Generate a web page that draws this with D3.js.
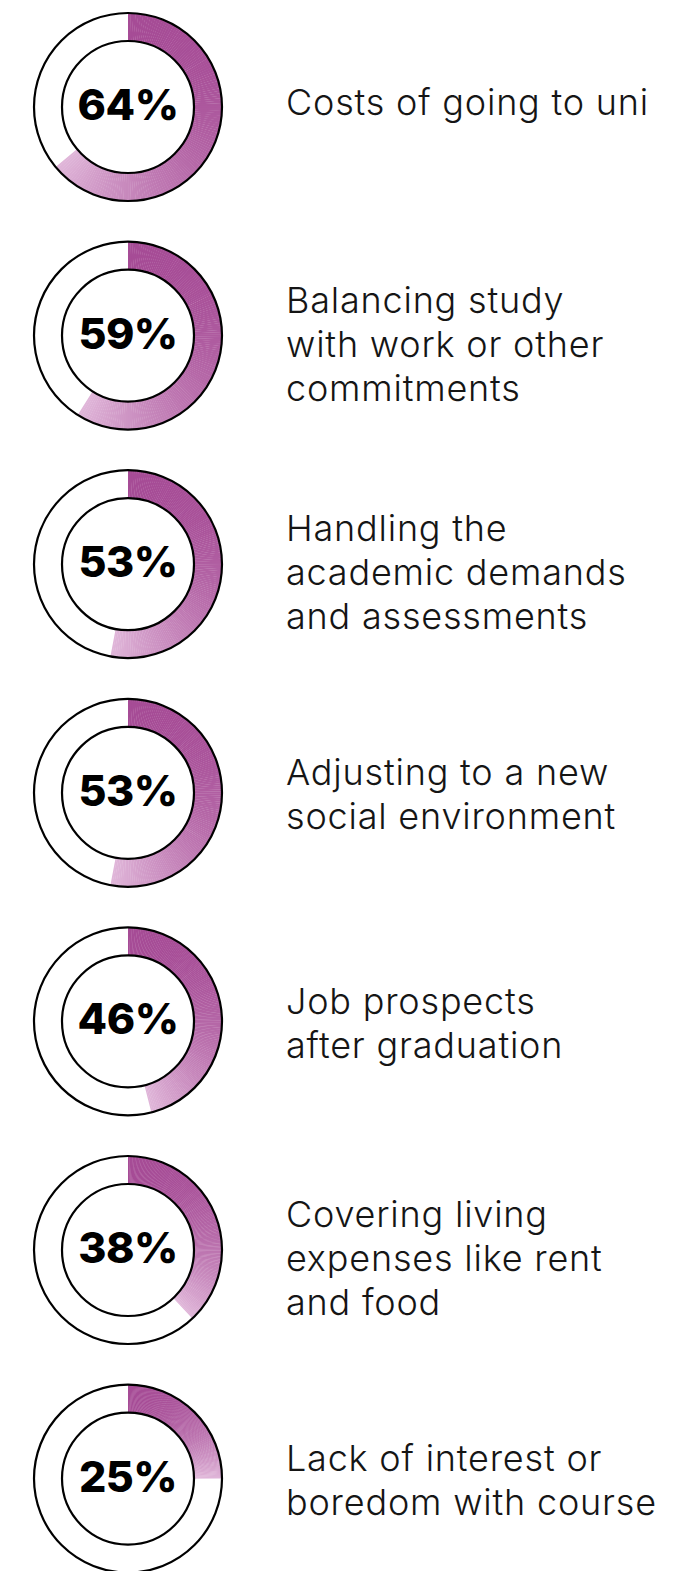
<!DOCTYPE html>
<html>
<head>
<meta charset="utf-8">
<script src="https://cdn.jsdelivr.net/npm/d3@7"></script>
<style>
  html, body { margin: 0; padding: 0; background: #fff; }
  svg { display: block; }
</style>
</head>
<body>
<div id="chart"></div>
<script>
// the data
const labels = [
  ["Costs of going to uni"],
  ["Balancing study", "with work or other", "commitments"],
  ["Handling the", "academic demands", "and assessments"],
  ["Adjusting to a new", "social environment"],
  ["Job prospects", "after graduation"],
  ["Covering living", "expenses like rent", "and food"],
  ["Lack of interest or", "boredom with course"]
];
const values = [64, 59, 53, 53, 46, 38, 25];

const width = 693, height = 1571;
const cx = 128, rOuter = 94, rInner = 66;
const rowTop = 107, rowStep = 228.6;
const darkCol = "#a64c96", lightCol = "#e0b6d9";

const svg = d3.select("#chart").append("svg")
  .attr("width", width).attr("height", height);

const y = d3.scaleLinear().domain([0, 1]).range([rowTop, rowTop + rowStep]);
const angle = d3.scaleLinear().domain([0, 100]).range([0, 2 * Math.PI]);
const arc = d3.arc().innerRadius(rInner).outerRadius(rOuter);

const rows = svg.selectAll("g.row")
  .data(values.map((v, i) => ({ v, lines: labels[i], i })))
  .join("g")
  .attr("class", "row")
  .attr("transform", d => `translate(${cx},${y(d.i)})`);

// arc drawn as many thin slices so the colour fades along it
// (stays dark for a while, then lightens toward the end)
const steps = 150;
const col = d3.interpolateRgb(darkCol, lightCol);
rows.each(function(d) {
  const g = d3.select(this);
  const end = angle(d.v);
  const segs = d3.range(steps).map(k => ({
    a0: end * k / steps,
    a1: Math.min(end, end * (k + 1) / steps + 0.004),
    t: Math.pow(k / (steps - 1), 2.3)
  }));
  g.selectAll("path.seg").data(segs).join("path")
    .attr("class", "seg")
    .attr("d", s => arc({ startAngle: s.a0, endAngle: s.a1 }))
    .attr("fill", s => col(s.t));
});

rows.append("circle").attr("r", rOuter)
  .attr("fill", "none").attr("stroke", "#000").attr("stroke-width", 2.2);
rows.append("circle").attr("r", rInner)
  .attr("fill", "none").attr("stroke", "#000").attr("stroke-width", 2.2);

rows.append("text")
  .attr("text-anchor", "middle")
  .attr("y", 13)
  .attr("font-family", "Inter, sans-serif")
  .attr("font-weight", 800)
  .attr("font-size", 43)
  .attr("letter-spacing", -0.5)
  .attr("fill", "#000")
  .text(d => d.v + "%");

// labels: line height 44, block sits a bit below the donut centre
const lh = 44;
rows.append("text")
  .attr("font-family", "Inter, sans-serif")
  .attr("font-weight", 300)
  .attr("font-size", 36)
  .attr("letter-spacing", 0.8)
  .attr("fill", "#151515")
  .selectAll("tspan")
  .data(d => d.lines.map((t, k) => ({ t, k, n: d.lines.length })))
  .join("tspan")
  .attr("x", 286 - cx)
  .attr("y", s => (s.k - (s.n - 1) / 2) * lh + 8 + 6.5 * (s.n - 1))
  .text(s => s.t);
</script>
</body>
</html>
